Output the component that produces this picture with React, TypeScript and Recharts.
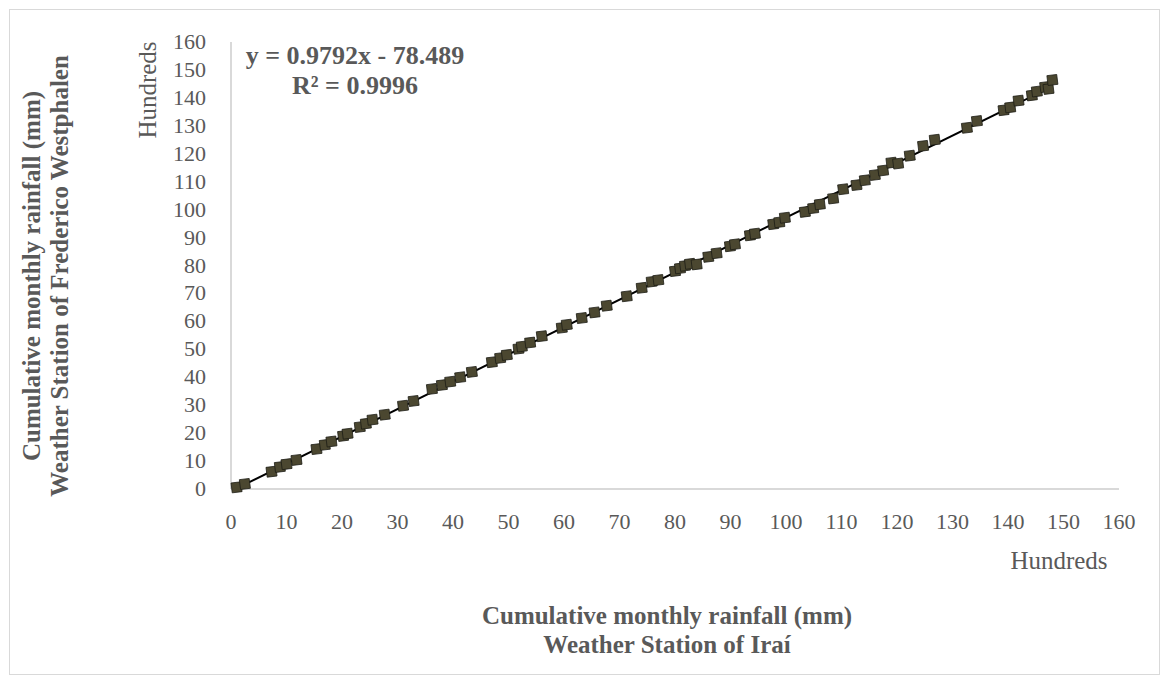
import React from "react";
import { ScatterChart, Scatter, XAxis, YAxis, ReferenceLine } from "recharts";

// cumulative rainfall, in hundreds of mm
const iraiX = [
  1.0, 2.5, 7.3, 8.8, 10.0, 11.8, 15.4, 16.9, 18.1, 20.2, 21.0, 23.2, 24.3, 25.5, 27.7,
  31.0, 32.9, 36.2, 38.0, 39.5, 41.3, 43.4, 47.0, 48.5, 49.7, 51.8, 52.4, 53.9, 56.0,
  59.6, 60.5, 63.2, 65.5, 67.7, 71.3, 74.0, 75.8, 77.0, 80.0, 80.9, 81.8, 82.7, 83.9,
  86.0, 87.5, 89.9, 90.8, 93.5, 94.4, 97.7, 98.8, 99.8, 103.4, 104.9, 106.1, 108.5,
  110.3, 112.7, 114.2, 116.0, 117.5, 119.0, 120.2, 122.3, 124.7, 126.8, 132.6, 134.4,
  139.2, 140.4, 141.9, 144.3, 145.2, 146.7, 147.3, 148.0,
];
const fredericoY = [
  0.6, 1.8, 6.2, 7.9, 8.9, 10.4, 14.3, 15.8, 17.0, 19.0, 19.8, 22.2, 23.4, 24.8, 26.6,
  29.8, 31.5, 35.8, 37.2, 38.4, 40.0, 41.9, 45.4, 46.9, 48.0, 50.2, 51.0, 52.4, 54.7,
  57.7, 58.8, 61.2, 63.2, 65.6, 69.0, 72.0, 74.2, 74.8, 78.0, 79.0, 79.9, 80.6, 80.4,
  83.1, 84.4, 86.9, 87.6, 90.8, 91.4, 94.8, 95.5, 97.1, 99.2, 100.5, 101.9, 104.0,
  107.3, 108.8, 110.5, 112.4, 114.0, 116.8, 116.5, 119.3, 122.8, 125.0, 129.3, 131.7,
  135.6, 136.6, 139.0, 140.9, 142.3, 143.9, 143.2, 146.4,
];
const ticks = [0, 10, 20, 30, 40, 50, 60, 70, 80, 90, 100, 110, 120, 130, 140, 150, 160];
// linear trend end points (y = 0.9792x - 78.489, in hundreds)
const trendX = [1.0, 148.0];
const trendY = [0.19, 144.14];

const points = iraiX.map((x, i) => ({ x, y: fredericoY[i] }));

const FONT = "'Liberation Serif', 'Times New Roman', serif";
const GREY = "#595959";
const W = 1169;
const H = 683;

function Diamond(props: any) {
  const { cx, cy } = props;
  if (cx == null || cy == null) return null;
  const r = 7;
  const a = (38 * Math.PI) / 180;
  const pts = [0, 1, 2, 3]
    .map((k) => {
      const t = a + (k * Math.PI) / 2;
      return `${cx + r * Math.cos(t)},${cy + r * Math.sin(t)}`;
    })
    .join(" ");
  return <polygon points={pts} fill="#4b4730" stroke="#1c1c14" strokeWidth={0.8} />;
}

function XTick(props: any) {
  return (
    <text x={props.x} y={529} textAnchor="middle" fill={GREY} fontSize={22} fontFamily={FONT}>
      {props.payload.value}
    </text>
  );
}

function YTick(props: any) {
  return (
    <text x={206} y={props.y} dy={7} textAnchor="end" fill={GREY} fontSize={22} fontFamily={FONT}>
      {props.payload.value}
    </text>
  );
}

export default function App() {
  return (
    <div style={{ position: "absolute", left: 0, top: 0, width: W, height: H, background: "#fff" }}>
      <ScatterChart width={W} height={H} margin={{ top: 42, right: 50, bottom: 0, left: 0 }}>
        <XAxis
          type="number"
          dataKey="x"
          domain={[0, 160]}
          ticks={ticks}
          height={194}
          axisLine={{ stroke: "#cccccc", strokeWidth: 1.5 }}
          tickLine={false}
          tick={<XTick />}
          interval={0}
        />
        <YAxis
          type="number"
          dataKey="y"
          domain={[0, 160]}
          ticks={ticks}
          width={231}
          axisLine={{ stroke: "#cccccc", strokeWidth: 1.5 }}
          tickLine={false}
          tick={<YTick />}
          interval={0}
        />
        <Scatter data={points} shape={<Diamond />} isAnimationActive={false} />
        <ReferenceLine
          segment={[
            { x: trendX[0], y: trendY[0] },
            { x: trendX[1], y: trendY[1] },
          ]}
          stroke="#000"
          strokeWidth={2}
        />
      </ScatterChart>
      <svg
        width={W}
        height={H}
        style={{ position: "absolute", left: 0, top: 0, pointerEvents: "none" }}
      >
        <rect x={9.5} y={9.5} width={1150} height={665} fill="none" stroke="#d9d9d9" />
        <text x={355} y={64} textAnchor="middle" fill={GREY} fontSize={26} fontWeight="bold" fontFamily={FONT}>
          y = 0.9792x - 78.489
        </text>
        <text x={355} y={94} textAnchor="middle" fill={GREY} fontSize={26} fontWeight="bold" fontFamily={FONT}>
          R² = 0.9996
        </text>
        <text
          x={147}
          y={90}
          transform="rotate(-90 147 90)"
          textAnchor="middle"
          dominantBaseline="central"
          fill={GREY}
          fontSize={25}
          fontFamily={FONT}
        >
          Hundreds
        </text>
        <text x={1059} y={569} textAnchor="middle" fill={GREY} fontSize={25} fontFamily={FONT}>
          Hundreds
        </text>
        <text x={667} y={624} textAnchor="middle" fill={GREY} fontSize={25} fontWeight="bold" fontFamily={FONT}>
          Cumulative monthly rainfall (mm)
        </text>
        <text x={667} y={653} textAnchor="middle" fill={GREY} fontSize={25} fontWeight="bold" fontFamily={FONT}>
          Weather Station of Iraí
        </text>
        <text
          x={31}
          y={276}
          transform="rotate(-90 31 276)"
          textAnchor="middle"
          dominantBaseline="central"
          fill={GREY}
          fontSize={25}
          fontWeight="bold"
          fontFamily={FONT}
        >
          Cumulative monthly rainfall (mm)
        </text>
        <text
          x={59}
          y={276}
          transform="rotate(-90 59 276)"
          textAnchor="middle"
          dominantBaseline="central"
          fill={GREY}
          fontSize={25}
          fontWeight="bold"
          fontFamily={FONT}
        >
          Weather Station of Frederico Westphalen
        </text>
      </svg>
    </div>
  );
}
